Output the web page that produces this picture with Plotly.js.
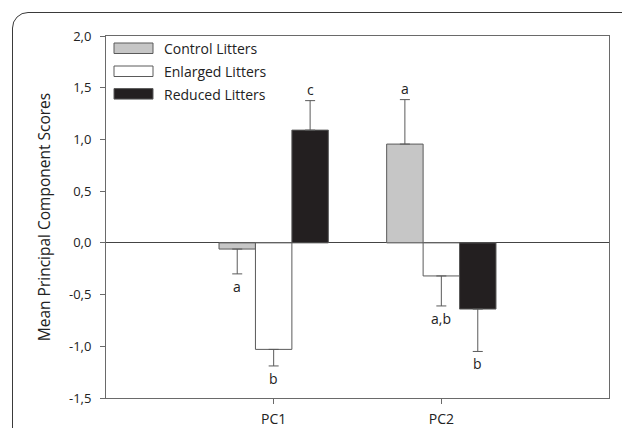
<!DOCTYPE html>
<html>
<head>
<meta charset="utf-8">
<script src="https://cdn.plot.ly/plotly-3.0.1.min.js"></script>
<style>
  html, body { margin:0; padding:0; background:#fff; overflow:hidden; }
  #frame { position:absolute; left:12px; top:12px; width:700px; height:600px;
           border:1.5px solid #3a3a3a; border-radius:16px; }
  #chart { position:absolute; left:0; top:0; width:622px; height:428px; }
</style>
</head>
<body>
<div id="frame"></div>
<div id="chart"></div>
<script>
// ---- data ----
const categories = ['PC1', 'PC2'];
const seriesNames = ['Control Litters', 'Enlarged Litters', 'Reduced Litters'];
const controlValues  = [-0.06, 0.955];
const enlargedValues = [-1.03, -0.32];
const reducedValues  = [1.09, -0.64];
const controlErrors  = [0.24, 0.43];
const enlargedErrors = [0.16, 0.29];
const reducedErrors  = [0.285, 0.41];
const controlLetters  = ['a', 'a'];
const enlargedLetters = ['b', 'a,b'];
const reducedLetters  = ['c', 'b'];
const yTickValues = [2.0, 1.5, 1.0, 0.5, 0.0, -0.5, -1.0, -1.5];
const yTickLabels = ['2,0', '1,5', '1,0', '0,5', '0,0', '-0,5', '-1,0', '-1,5'];

// ---- styles ----
const fillColors = ['#c6c6c6', '#ffffff', '#231f20'];
const outline = '#5a5a5a';
const FONT = '"Open Sans", Lato, sans-serif';
const TXT = '#222';
const bargap = 0.348;

const values = [controlValues, enlargedValues, reducedValues];
const errors = [controlErrors, enlargedErrors, reducedErrors];
const letters = [controlLetters, enlargedLetters, reducedLetters];

const traces = values.map((vals, i) => ({
  type: 'bar',
  name: seriesNames[i],
  x: categories,
  y: vals,
  marker: { color: fillColors[i], line: { color: outline, width: 1 } },
  error_y: {
    type: 'data', symmetric: false,
    array: vals.map((v, k) => v >= 0 ? errors[i][k] : 0),
    arrayminus: vals.map((v, k) => v < 0 ? errors[i][k] : 0),
    color: outline, thickness: 1, width: 5
  },
  showlegend: false,
  hoverinfo: 'x+y'
}));

// significance letters at error bar ends
const barW = (1 - bargap) / values.length;
const annotations = [];
values.forEach((vals, i) => {
  vals.forEach((v, k) => {
    const pos = v >= 0;
    annotations.push({
      xref: 'x', yref: 'y',
      x: k + (i - (values.length - 1) / 2) * barW,
      y: v + (pos ? errors[i][k] : -errors[i][k]),
      text: letters[i][k], showarrow: false,
      yanchor: pos ? 'bottom' : 'top',
      yshift: pos ? 0 : -1,
      font: { family: FONT, size: 14, color: TXT }
    });
  });
});

// custom legend (wide swatches)
const shapes = [];
const rowTops = [7, 30, 52.6];
seriesNames.forEach((n, i) => {
  shapes.push({
    type: 'rect', xref: 'paper', yref: 'paper',
    xsizemode: 'pixel', ysizemode: 'pixel', xanchor: 0, yanchor: 1,
    x0: 8, x1: 47, y0: -rowTops[i] - 10.5, y1: -rowTops[i],
    fillcolor: fillColors[i], line: { color: outline, width: 1 }
  });
  annotations.push({
    xref: 'paper', yref: 'paper', x: 0, y: 1,
    xshift: 56, yshift: -(rowTops[i] + 5.5),
    xanchor: 'left', yanchor: 'middle', showarrow: false,
    text: n, font: { family: FONT, size: 14, color: TXT }
  });
});

const layout = {
  width: 622, height: 428,
  margin: { l: 106, r: 13, t: 36, b: 30, pad: 0 },
  paper_bgcolor: 'rgba(0,0,0,0)',
  plot_bgcolor: 'rgba(0,0,0,0)',
  barmode: 'group', bargap: bargap, bargroupgap: 0,
  font: { family: FONT, size: 14, color: TXT },
  xaxis: {
    type: 'category', range: [-1, 2],
    showline: true, mirror: true, linecolor: '#6a6a6a', linewidth: 1,
    ticks: 'outside', ticklen: 5, tickcolor: '#6a6a6a',
    showgrid: false, zeroline: false,
    ticklabelstandoff: 3,
    tickfont: { family: FONT, size: 14, color: TXT }
  },
  yaxis: {
    range: [-1.5, 2.0],
    tickvals: yTickValues, ticktext: yTickLabels,
    showline: true, mirror: true, linecolor: '#6a6a6a', linewidth: 1,
    ticks: 'outside', ticklen: 5, tickcolor: '#6a6a6a',
    showgrid: false,
    zeroline: true, zerolinecolor: '#444', zerolinewidth: 1,
    ticklabelstandoff: 6,
    tickfont: { family: FONT, size: 13, color: TXT },
    title: { text: 'Mean Principal Component Scores', standoff: 14,
             font: { family: FONT, size: 15.5, color: TXT } }
  },
  shapes: shapes,
  annotations: annotations
};

Plotly.newPlot('chart', traces, layout, { displayModeBar: false, staticPlot: true });
</script>
</body>
</html>
